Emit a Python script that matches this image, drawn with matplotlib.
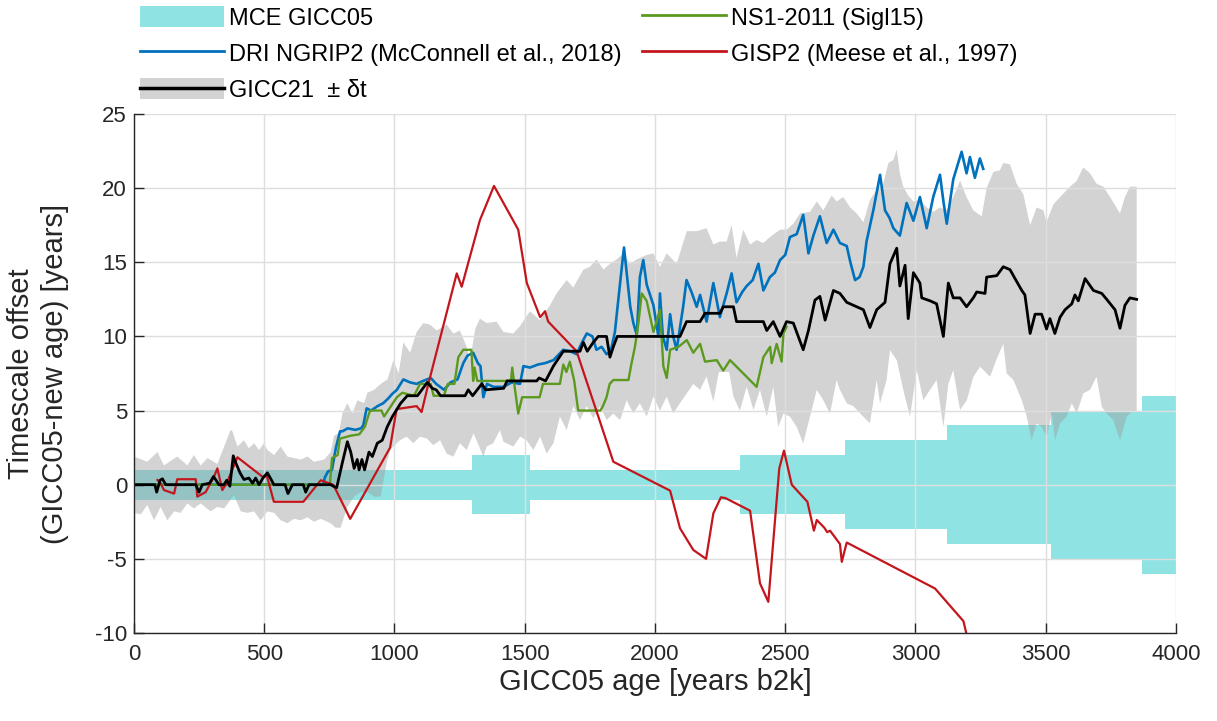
import matplotlib
matplotlib.use("Agg")
import matplotlib.pyplot as plt
import numpy as np
from matplotlib.patches import Patch
from matplotlib.lines import Line2D

plt.rcParams['font.family'] = ['Liberation Sans', 'DejaVu Sans']
plt.rcParams['axes.unicode_minus'] = False

# ---------------- data ----------------
# MCE GICC05 (maximum counting error), step function
mce_edges = [0, 1297, 1520, 2326, 2729, 3121, 3520, 3869, 4000]
mce_err = [1, 2, 1, 2, 3, 4, 5, 6, 6]

# GICC21 offset
gicc21_x = [0, 80, 87, 100, 109, 122, 237, 250, 262, 290, 305, 315, 326, 345, 356, 368, 381, 390, 407,
            422, 441, 455, 467, 480, 495, 512, 525, 537, 580, 591, 608, 650, 659, 672, 755, 765, 778, 800,
            819, 832, 845, 857, 864, 875, 885, 902, 915, 934, 953, 972, 992, 1024, 1049, 1088, 1126, 1145,
            1160, 1177, 1271, 1283, 1300, 1335, 1350, 1419, 1432, 1546, 1555, 1580, 1610, 1648, 1712, 1725,
            1740, 1763, 1782, 1814, 1827, 1840, 1855, 2096, 2121, 2173, 2192, 2249, 2262, 2301, 2313, 2416,
            2429, 2454, 2480, 2505, 2531, 2569, 2589, 2614, 2633, 2653, 2685, 2710, 2736, 2774, 2800, 2825,
            2851, 2883, 2902, 2928, 2940, 2960, 2972, 2992, 3017, 3024, 3056, 3081, 3107, 3126, 3145, 3171,
            3196, 3222, 3235, 3267, 3273, 3312, 3337, 3363, 3382, 3408, 3420, 3440, 3459, 3484, 3503, 3516,
            3535, 3555, 3574, 3600, 3612, 3625, 3651, 3683, 3715, 3734, 3766, 3785, 3804, 3823, 3849]
gicc21_y = [0, 0, -0.5, 0.3, 0.4, 0, 0, -0.5, 0, 0.1, 0.55, 0.3, 0, 0, 0.3, -0.1, 1.95, 1.5, 0.8,
            0.35, 0.45, 0.1, 0.45, 0, 0.45, 0.8, 0.4, 0, 0, -0.6, 0, 0, -0.5, 0, 0, -0.1, -0.2, 1.5,
            2.9, 2.2, 1.1, 1.7, 1.0, 1.7, 1.0, 2.2, 1.9, 2.8, 3.0, 3.9, 4.6, 5.5, 6.0, 6.0, 6.9, 6.5,
            6.4, 6.0, 6.0, 6.4, 6.0, 6.8, 6.4, 6.5, 7.0, 7.0, 7.2, 7.0, 8.0, 9.0, 9.0, 9.6,
            9.0, 9.6, 10.0, 10.0, 8.6, 9.3, 10.0, 10.0, 11.0, 11.0, 11.56, 11.56, 12.0, 12.0, 11.0, 11.0,
            10.4, 11.0, 10.0, 11.0, 10.9, 9.1, 10.4, 12.45, 12.7, 11.1, 13.1, 12.9, 12.3, 12.0, 11.8, 10.6,
            11.8, 12.3, 14.9, 15.95, 13.4, 14.8, 11.2, 14.3, 13.6, 12.6, 12.4, 12.2, 10.0, 13.6, 12.6, 12.6,
            12.0, 12.6, 13.0, 12.9, 14.0, 14.1, 14.7, 14.5, 13.9, 13.1, 12.8, 10.2, 11.5, 11.5, 10.5, 11.2,
            10.2, 11.3, 11.8, 12.2, 12.8, 12.4, 13.9, 13.1, 12.9, 12.5, 11.8, 10.55, 12.1, 12.6, 12.5]

# GICC21 uncertainty band (upper / lower envelope)
band_up_x = [0, 51, 90, 115, 141, 166, 205, 230, 256, 282, 320, 346, 371, 378, 397, 422, 441, 461, 480,
             499, 512, 538, 563, 589, 614, 640, 666, 691, 730, 755, 768, 787, 800, 819, 838, 858, 883,
             896, 922, 947, 973, 996, 1016, 1034, 1060, 1085, 1111, 1136, 1162, 1200, 1226, 1251, 1277,
             1290, 1310, 1328, 1354, 1392, 1418, 1456, 1482, 1520, 1558, 1597, 1622, 1661, 1686, 1725,
             1750, 1776, 1802, 1827, 1853, 1878, 1904, 1930, 1968, 1994, 2019, 2045, 2083, 2122, 2160,
             2198, 2224, 2249, 2275, 2294, 2313, 2339, 2365, 2390, 2416, 2441, 2480, 2505, 2531, 2557,
             2595, 2621, 2646, 2678, 2697, 2723, 2749, 2774, 2800, 2825, 2851, 2876, 2896, 2915, 2928,
             2940, 2953, 2972, 2992, 3017, 3043, 3068, 3094, 3119, 3145, 3171, 3196, 3222, 3254, 3273,
             3299, 3324, 3337, 3363, 3388, 3414, 3440, 3465, 3491, 3503, 3529, 3555, 3593, 3619, 3644,
             3670, 3695, 3721, 3747, 3785, 3804, 3823, 3849]
band_up_y = [1.9, 1.55, 2.2, 1.3, 1.6, 1.9, 1.3, 2.0, 1.3, 1.8, 1.4, 2.57, 3.7, 3.6, 2.57, 3.0, 2.46, 2.8, 2.34,
             2.8, 2.34, 2.0, 2.57, 1.9, 1.8, 1.7, 1.9, 1.55, 1.7, 2.2, 3.3, 3.5, 4.8, 5.5, 4.8, 5.7, 5.5,
             6.2, 6.4, 6.8, 7.1, 8.4, 7.5, 9.6, 8.9, 10.3, 10.9, 10.8, 10.4, 10.8, 10.2, 10.4, 9.3,
             8.4, 10.5, 11.2, 10.9, 11.0, 10.3, 10.2, 10.7, 11.7, 11.1, 12.1, 12.9, 13.8, 13.3, 14.5,
             14.7, 15.2, 14.5, 14.9, 15.2, 15.6, 14.9, 15.2, 15.5, 15.6, 14.7, 15.6, 14.9, 17.1, 17.1,
             17.3, 16.2, 16.4, 16.4, 17.5, 15.3, 17.2, 16.2, 16.5, 16.3, 16.7, 17.2, 17.2, 17.6, 18.3,
             18.4, 19.1, 18.5, 19.5, 19.1, 19.4, 18.7, 18.3, 17.7, 19.2, 19.9, 20.3, 21.7, 21.9, 22.6,
             21.0, 20.1, 19.5, 19.1, 19.2, 18.7, 18.4, 18.7, 18.5, 19.4, 20.5, 19.4, 18.5, 18.1, 20.0,
             21.1, 21.2, 21.7, 21.6, 20.3, 19.6, 17.5, 18.7, 18.5, 17.7, 18.9, 19.4, 20.1, 20.5, 21.4,
             21.0, 20.3, 20.1, 19.4, 18.3, 19.4, 20.1, 20.1]
band_lo_x = [0, 26, 51, 77, 102, 128, 154, 179, 205, 230, 256, 294, 320, 346, 384, 410, 435, 461, 486,
             512, 538, 563, 589, 614, 640, 666, 691, 717, 755, 774, 793, 819, 845, 870, 896, 922, 947,
             960, 970, 985, 1021, 1047, 1072, 1098, 1123, 1149, 1175, 1200, 1226, 1251, 1277, 1303, 1315,
             1341, 1354, 1379, 1405, 1418, 1456, 1482, 1507, 1533, 1559, 1584, 1610, 1635, 1661, 1687,
             1712, 1738, 1763, 1789, 1814, 1840, 1866, 1891, 1917, 1942, 1968, 1994, 2019, 2045, 2070,
             2096, 2122, 2147, 2173, 2198, 2224, 2245, 2285, 2301, 2326, 2352, 2378, 2403, 2429, 2454,
             2473, 2493, 2518, 2544, 2569, 2595, 2621, 2646, 2672, 2697, 2710, 2736, 2761, 2800, 2825,
             2851, 2864, 2889, 2902, 2928, 2953, 2979, 3005, 3030, 3056, 3081, 3107, 3126, 3145, 3171,
             3197, 3222, 3248, 3286, 3312, 3337, 3350, 3376, 3408, 3427, 3446, 3465, 3484, 3504, 3523,
             3536, 3555, 3580, 3600, 3619, 3644, 3670, 3695, 3715, 3734, 3759, 3785, 3811, 3830, 3849]
band_lo_y = [-1.9, -2.0, -1.36, -2.4, -1.5, -2.4, -1.8, -1.9, -1.26, -1.6, -1.26, -1.8, -1.5, -1.6, -0.7, -1.8,
             -1.9, -1.8, -2.4, -1.8, -1.9, -2.4, -2.6, -2.3, -2.4, -2.2, -2.5, -2.3, -2.6, -2.9, -2.9,
             -1.5, -0.8, -0.5, -0.5, -0.8, -0.8, 0.5, 1.5, 2.4, 3.0, 3.24, 2.8, 3.24, 3.13, 2.67, 3.0,
             2.1, 1.89, 2.8, 2.34, 3.46, 3.0, 1.89, 2.57, 2.8, 3.69, 2.9, 2.57, 3.24, 3.0, 2.34, 3.24,
             2.1, 2.8, 4.6, 3.69, 5.3, 4.36, 5.3, 4.48, 5.3, 4.36, 4.8, 4.36, 5.7, 4.8, 5.5, 4.6, 5.94,
             5.0, 5.94, 4.8, 5.5, 6.16, 6.8, 6.4, 7.3, 5.6, 7.6, 7.6, 5.94, 5.0, 6.6, 5.04, 6.4, 4.59,
             6.6, 3.9, 4.8, 4.59, 3.9, 2.79, 4.59, 6.4, 5.7, 4.8, 7.06, 6.4, 5.49, 5.3, 4.59, 4.14,
             7.06, 5.49, 7.06, 9.08, 8.4, 6.4, 4.59, 7.73, 5.7, 6.4, 7.06, 3.9, 6.8, 7.73, 5.04, 5.7,
             7.28, 7.96, 7.28, 8.5, 9.5, 7.5, 7.06, 5.7, 4.59, 3.0, 4.14, 3.9, 3.24, 4.8, 3.0, 4.14,
             4.59, 5.49, 4.8, 6.16, 6.4, 7.28, 5.26, 4.8, 4.36, 3.0, 4.59, 4.93, 4.93]

# DRI NGRIP2 (McConnell et al., 2018)
dri_x = [0, 725, 733, 745, 760, 775, 791, 800, 820, 850, 871, 880, 893, 910, 935, 957, 975, 990, 1009,
         1034, 1060, 1085, 1110, 1139, 1160, 1190, 1215, 1242, 1264, 1280, 1302, 1320, 1330, 1341, 1355,
         1380, 1419, 1450, 1482, 1495, 1520, 1550, 1578, 1610, 1648, 1675, 1699, 1720, 1738, 1760, 1775,
         1795, 1814, 1830, 1846, 1866, 1881, 1893, 1905, 1917, 1930, 1942, 1955, 1968, 1994, 2013, 2019,
         2030, 2045, 2058, 2070, 2083, 2108, 2121, 2140, 2160, 2173, 2198, 2224, 2249, 2275, 2294, 2313,
         2335, 2352, 2375, 2397, 2416, 2441, 2460, 2480, 2500, 2518, 2544, 2569, 2589, 2608, 2633, 2659,
         2685, 2710, 2736, 2750, 2768, 2785, 2800, 2812, 2838, 2864, 2883, 2900, 2915, 2940, 2966, 2992,
         3017, 3043, 3068, 3094, 3108, 3120, 3145, 3177, 3196, 3209, 3228, 3247, 3260]
dri_y = [0, 0, 0.5, 0.9, 1.0, 2.5, 3.6, 3.6, 3.8, 3.7, 3.8, 4.0, 5.15, 5.0, 5.3, 5.5, 5.8, 6.1, 6.4,
         7.1, 6.9, 6.8, 7.0, 7.2, 6.8, 6.4, 6.9, 7.1, 8.2, 8.7, 8.9, 8.2, 8.0, 5.9, 6.8,
         6.6, 6.6, 6.9, 6.8, 8.0, 7.9, 8.1, 8.2, 8.4, 9.1, 9.0, 8.8, 9.6, 10.2, 10.0, 9.1,
         9.3, 8.8, 9.0, 10.3, 13.6, 16.0, 14.0, 12.0, 10.9, 10.1, 14.0, 15.15, 13.5, 12.1, 10.0, 12.9,
         10.0, 9.1, 11.5, 10.0, 9.1, 12.0, 13.8, 13.0, 12.0, 12.8, 11.0, 13.6, 11.3, 12.9, 14.25, 12.3,
         13.0, 13.4, 13.8, 14.9, 13.1, 14.0, 14.3, 15.15, 15.5, 16.7, 16.9, 18.2, 15.6, 16.8, 18.1, 16.3,
         17.2, 16.3, 16.1, 15.0, 13.8, 14.0, 14.7, 16.4, 18.5, 20.9, 18.5, 18.0, 17.3, 16.8, 19.0, 17.8,
         19.4, 17.3, 19.4, 20.9, 19.0, 17.6, 20.6, 22.45, 21.0, 22.1, 20.7, 22.0, 21.3]

# NS1-2011 (Sigl15)
ns1_x = [0, 752, 760, 782, 790, 830, 865, 886, 906, 950, 960, 975, 1009, 1030, 1075, 1098, 1139, 1150,
         1190, 1197, 1205, 1230, 1245, 1264, 1295, 1302, 1307, 1318, 1447, 1452, 1462, 1475, 1490, 1557,
         1570, 1635, 1648, 1660, 1673, 1690, 1705, 1790, 1800, 1814, 1826, 1840, 1898, 1910, 1923, 1937,
         1949, 1968, 1994, 2019, 2032, 2045, 2058, 2090, 2122, 2147, 2173, 2192, 2237, 2262, 2288, 2390,
         2416, 2442, 2448, 2467, 2486, 2493, 2505]
ns1_y = [0, 0, 1.8, 2.0, 3.1, 3.3, 3.4, 3.9, 5.0, 5.0, 4.6, 5.0, 5.9, 6.2, 6.0, 6.8, 6.8, 6.0,
         6.0, 6.4, 6.8, 6.8, 8.6, 9.1, 9.1, 7.0, 7.9, 7.0, 7.0, 7.9, 6.5, 4.8, 5.9, 5.9,
         6.8, 6.8, 8.1, 7.6, 8.3, 7.0, 5.0, 5.0, 5.3, 5.9, 6.8, 7.06, 7.06, 8.2, 9.3, 11.0,
         12.9, 12.4, 10.3, 11.8, 8.0, 7.2, 9.1, 9.3, 9.75, 8.9, 9.5, 8.3, 8.4, 7.7, 8.4, 6.6,
         8.6, 9.3, 8.2, 9.5, 8.3, 10.2, 10.65]

# GISP2 (Meese et al., 1997)
gisp2_x = [90, 102, 115, 154, 166, 237, 243, 275, 307, 320, 339, 356, 397, 493, 510, 537, 650, 717, 765,
           830, 983, 1008, 1085, 1104, 1130, 1239, 1258, 1328, 1382, 1475, 1508, 1559, 1578, 1590, 1699,
           1840, 2058, 2096, 2147, 2196, 2224, 2253, 2270, 2365, 2403, 2435, 2477, 2495, 2525, 2585, 2610,
           2621, 2650, 2661, 2672, 2710, 2717, 2736, 3075, 3184, 3215]
gisp2_y = [0.32, 0.1, -0.36, -0.6, 0.37, 0.37, -0.8, -0.5, 0.54, 1.1, -0.36, 0.1, 1.85, 0.54, 0.6, -1.15, -1.15, 0.3, 0.0,
           -2.3, 2.5, 5.1, 5.3, 4.9, 6.8, 14.25, 13.35, 17.85, 20.15, 17.2, 13.6, 11.3, 11.7, 11.0, 9.0,
           1.55, -0.4, -2.94, -4.4, -5.0, -1.93, -0.85, -0.9, -1.75, -6.65, -7.9, 1.1, 2.3, 0.0, -1.15, -3.1,
           -2.38, -2.9, -3.2, -3.1, -4.0, -5.2, -3.9, -7.0, -9.2, -11.5]

xticks = [0, 500, 1000, 1500, 2000, 2500, 3000, 3500, 4000]
yticks = [-10, -5, 0, 5, 10, 15, 20, 25]

# ---------------- styles ----------------
C_MCE = '#8fe3e3'
C_BAND = '#9e9e9e'
C_DRI = '#0072bd'
C_NS1 = '#5b9a1f'
C_GISP = '#c3161c'
C_AX = '#262626'

fig = plt.figure(figsize=(12.17, 7.21), dpi=100)
W, H = 1217, 721
ax = fig.add_axes([134 / W, 1 - 633 / H, (1176 - 134) / W, (633 - 114) / H])

mce_e = np.array(mce_err, dtype=float)
ax.fill_between(mce_edges, -mce_e, mce_e, step='post', color=C_MCE, lw=0, zorder=0.2)
ax.fill(np.r_[band_up_x, band_lo_x[::-1]], np.r_[band_up_y, band_lo_y[::-1]],
        color=C_BAND, alpha=0.45, lw=0, zorder=0.3)

ax.plot(dri_x, dri_y, color=C_DRI, lw=1.9, zorder=2.0)
ax.plot(ns1_x, ns1_y, color=C_NS1, lw=1.7, zorder=2.1)
ax.plot(gisp2_x, gisp2_y, color=C_GISP, lw=1.6, zorder=2.2)
ax.plot(gicc21_x, gicc21_y, color='black', lw=2.0, zorder=2.3)

ax.set_xlim(0, 4000)
ax.set_ylim(-10, 25)
ax.set_xticks(xticks)
ax.set_yticks(yticks)
ax.set_axisbelow(True)
ax.grid(True, color='#dedede', lw=1.0)
for s in ['top', 'right']:
    ax.spines[s].set_visible(False)
for s in ['left', 'bottom']:
    ax.spines[s].set_color(C_AX)
    ax.spines[s].set_linewidth(1.0)
ax.tick_params(direction='in', length=7, width=1, color=C_AX, labelcolor=C_AX, labelsize=16)
ax.tick_params(axis='x', pad=8)
ax.tick_params(axis='y', pad=5)

ax.set_xlabel('GICC05 age [years b2k]', fontsize=21, color=C_AX, labelpad=2)
ax.set_ylabel('Timescale offset\n(GICC05-new age) [years]', fontsize=21, color=C_AX,
              linespacing=1.3)
ax.yaxis.set_label_coords(-0.062, 0.5)

handles = [Patch(facecolor=C_MCE, edgecolor='none'),
           Line2D([], [], color=C_DRI, lw=2),
           (Patch(facecolor='#d3d3d3', edgecolor='none'), Line2D([], [], color='black', lw=2.5)),
           Line2D([], [], color=C_NS1, lw=2),
           Line2D([], [], color=C_GISP, lw=2)]
labels = ['MCE GICC05', 'DRI NGRIP2 (McConnell et al., 2018)', 'GICC21  ± δt',
          'NS1-2011 (Sigl15)', 'GISP2 (Meese et al., 1997)']
fig.legend(handles, labels, ncol=2, loc='upper left', bbox_to_anchor=(140 / W, 1 - 6 / H),
           frameon=False, fontsize=17, handlelength=3.55, handleheight=1.0, handletextpad=0.22,
           columnspacing=0.85, labelspacing=0.53, borderpad=0, borderaxespad=0)

fig.savefig('out.png', dpi=100)
